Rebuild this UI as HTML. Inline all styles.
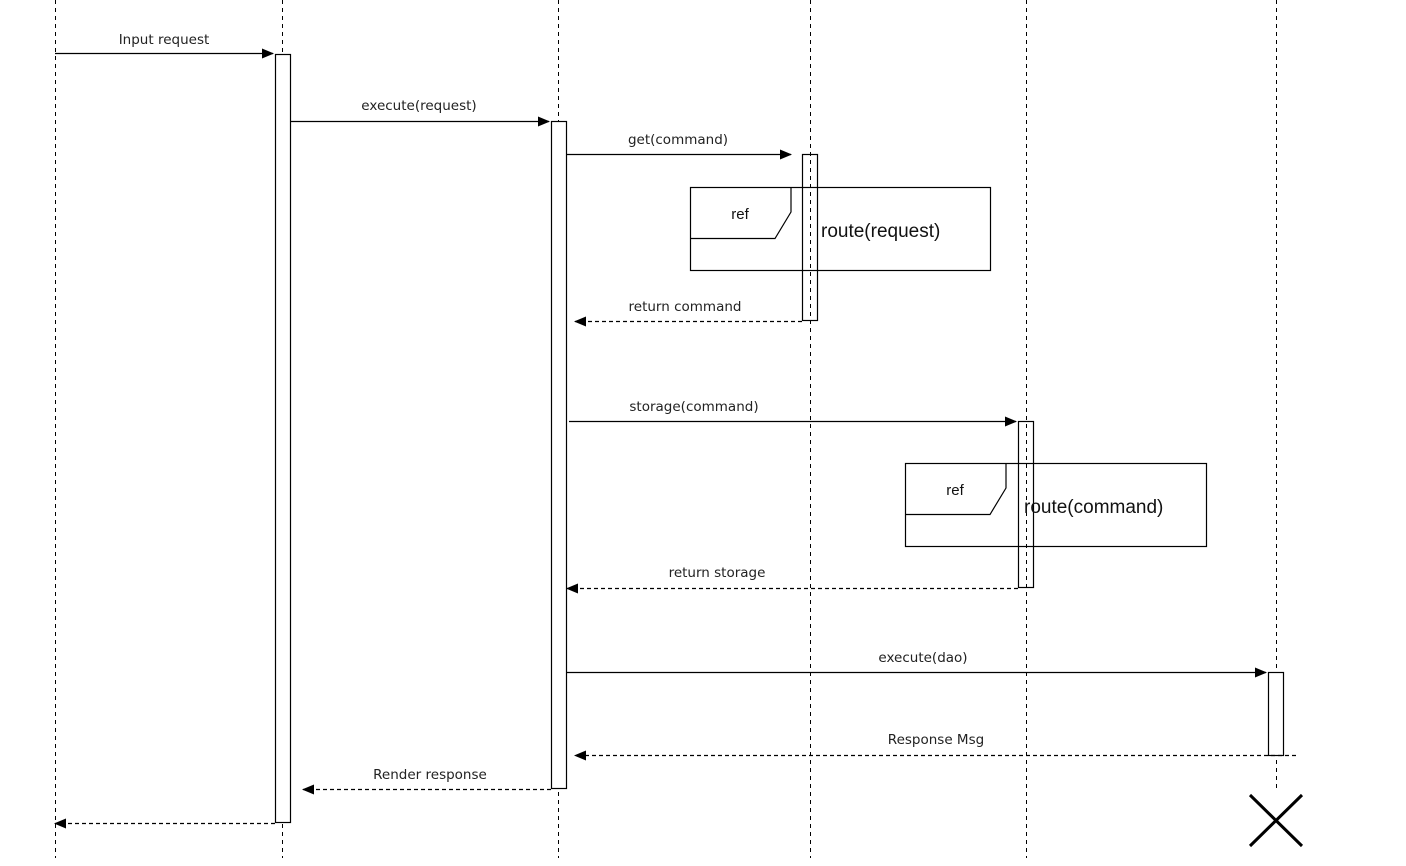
<!DOCTYPE html>
<html><head><style>html,body{margin:0;padding:0;background:#fff}svg{display:block}</style></head>
<body>
<svg width="1406" height="866" xmlns="http://www.w3.org/2000/svg">
<defs>
<marker id="a" markerWidth="12" markerHeight="10" refX="11" refY="5" orient="auto" markerUnits="userSpaceOnUse"><path d="M0,0 L12,5 L0,10 Z" fill="#000"/></marker>
</defs>
<g stroke="#000" stroke-width="1" stroke-dasharray="4,4" fill="none">
<line x1="55.5" y1="0" x2="55.5" y2="858"/>
<line x1="282.5" y1="0" x2="282.5" y2="858"/>
<line x1="558.5" y1="0" x2="558.5" y2="858"/>
<line x1="810.5" y1="0" x2="810.5" y2="858"/>
<line x1="1026.5" y1="0" x2="1026.5" y2="858"/>
<line x1="1276.5" y1="0" x2="1276.5" y2="790"/>
</g>
<g stroke="#000" stroke-width="1.2" fill="#fff">
<rect x="275.5" y="54.5" width="15" height="768"/>
<rect x="551.5" y="121.5" width="15" height="667"/>
<rect x="690.5" y="187.5" width="300" height="83" fill="none"/>
<path d="M690.5,238.5 L775,238.5 L791,212 L791,187.5" fill="none"/>
<rect x="802.5" y="154.5" width="15" height="166" fill="none"/>
<rect x="905.5" y="463.5" width="301" height="83" fill="none"/>
<path d="M905.5,514.5 L990,514.5 L1006,488 L1006,463.5" fill="none"/>
<rect x="1018.5" y="421.5" width="15" height="166" fill="none"/>
<rect x="1268.5" y="672.5" width="15" height="83"/>
</g>
<g stroke="#000" stroke-width="1.2" fill="none">
<line x1="55" y1="53.5" x2="273" y2="53.5" marker-end="url(#a)"/>
<line x1="290" y1="121.5" x2="549" y2="121.5" marker-end="url(#a)"/>
<line x1="566" y1="154.5" x2="791" y2="154.5" marker-end="url(#a)"/>
<line x1="569" y1="421.5" x2="1016" y2="421.5" marker-end="url(#a)"/>
<line x1="566" y1="672.5" x2="1266" y2="672.5" marker-end="url(#a)"/>
<g stroke-dasharray="4,3">
<line x1="802" y1="321.5" x2="575" y2="321.5" marker-end="url(#a)"/>
<line x1="1018" y1="588.5" x2="567" y2="588.5" marker-end="url(#a)"/>
<line x1="1296" y1="755.5" x2="575" y2="755.5" marker-end="url(#a)"/>
<line x1="551" y1="789.5" x2="303" y2="789.5" marker-end="url(#a)"/>
<line x1="275" y1="823.5" x2="55" y2="823.5" marker-end="url(#a)"/>
</g>
<path d="M1250,795 L1302,846 M1302,795 L1250,846" stroke-width="3"/>
</g>
<g font-family="DejaVu Sans, sans-serif" font-size="13.5" fill="#222" text-anchor="middle">
<text x="164" y="44">Input request</text>
<text x="419" y="110">execute(request)</text>
<text x="678" y="144">get(command)</text>
<text x="685" y="311">return command</text>
<text x="694" y="411">storage(command)</text>
<text x="717" y="577">return storage</text>
<text x="923" y="662">execute(dao)</text>
<text x="936" y="744">Response Msg</text>
<text x="430" y="779">Render response</text>
</g>
<g font-family="Liberation Sans, sans-serif" fill="#111">
<text x="740" y="219" font-size="15" text-anchor="middle">ref</text>
<text x="821" y="237" font-size="19">route(request)</text>
<text x="955" y="495" font-size="15" text-anchor="middle">ref</text>
<text x="1024" y="513" font-size="19">route(command)</text>
</g>
</svg>
</body></html>
